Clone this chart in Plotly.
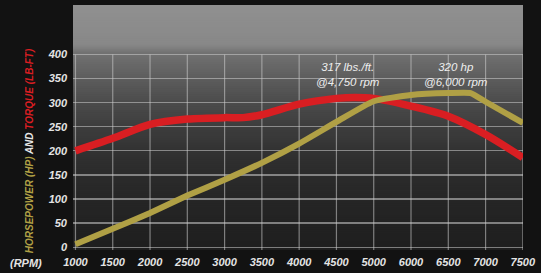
import plotly.graph_objects as go

# ---- data (x positions on the rpm grid) ----
torque_rpm = [1000, 1500, 2000, 2500, 3000, 3250, 3500, 4000, 4500, 4750, 5000, 5500, 6000, 6500, 7000]
torque_val = [200, 226, 255, 266, 269, 269, 275, 297, 309, 311, 309, 293, 272, 234, 186]

hp_rpm = [1000, 1500, 2000, 2500, 3000, 3500, 4000, 4500, 5000, 5500, 6000, 6300, 6500, 7000]
hp_val = [6, 38, 71, 107, 140, 175, 215, 260, 303, 316, 320, 320, 302, 258]

x_tickvals = [1000, 1500, 2000, 2500, 3000, 3500, 4000, 4500, 5000, 5500, 6000, 6500, 7000]
x_ticktext = ["1000", "1500", "2000", "2500", "3000", "3500", "4000", "4500", "5000",
              "6000", "6500", "7000", "7500"]
y_tickvals = [0, 50, 100, 150, 200, 250, 300, 350, 400]

W, H = 541, 273
ML, MR, MT, MB = 73, 14, 5, 21
Y_RANGE = [-6, 503]
X_RANGE = [967, 7002]
GRID = "rgba(205,205,205,0.55)"

fig = go.Figure()

fig.add_trace(go.Scatter(x=torque_rpm, y=torque_val, mode="lines",
                         line=dict(color="#d91e22", width=7.5, shape="spline", smoothing=0.8),
                         hoverinfo="skip", showlegend=False))
fig.add_trace(go.Scatter(x=hp_rpm, y=hp_val, mode="lines",
                         line=dict(color="#b0a045", width=6, shape="spline", smoothing=0.5),
                         hoverinfo="skip", showlegend=False))

# background vertical gradient (pixel-y, gray level)
stops = [(5, 0x90), (45, 0x88), (53, 0x72), (80, 0x5c), (104, 0x4b), (128, 0x3d),
         (160, 0x2f), (200, 0x26), (252, 0x1e)]
ph = H - MT - MB
pw = W - ML - MR
def gray_at(py):
    for (a, ga), (b, gb) in zip(stops, stops[1:]):
        if a <= py <= b:
            t = (py - a) / (b - a)
            return int(round(ga + (gb - ga) * t))
    return stops[-1][1]
shapes = []
step = 2
py = MT
while py < H - MB:
    g = gray_at(py + step / 2)
    ytop = 1 - (py - MT) / ph
    # each band reaches down to the bottom; later (lower) bands cover it
    shapes.append(dict(type="rect", xref="paper", yref="paper", x0=0, x1=1,
                       y0=0, y1=ytop, fillcolor=f"rgb({g},{g},{g})",
                       line=dict(width=0), layer="below"))
    py += step
# vertical grid lines only up to the 400 line
for xv in x_tickvals:
    shapes.append(dict(type="line", xref="x", yref="y", x0=xv, x1=xv,
                       y0=Y_RANGE[0], y1=max(y_tickvals),
                       line=dict(color=GRID, width=1.2), layer="below"))

tickfont = dict(family="Liberation Sans Narrow, Arial Narrow, sans-serif", size=11,
                color="#e4e4e4", weight="bold", style="italic")

fig.update_layout(
    width=W, height=H, autosize=False,
    margin=dict(l=ML, r=MR, t=MT, b=MB, pad=0),
    paper_bgcolor="#121212", plot_bgcolor="#1e1e1e",
    shapes=shapes,
    xaxis=dict(range=X_RANGE, tickvals=x_tickvals, ticktext=x_ticktext,
               showgrid=False, zeroline=False, showline=False, ticks="",
               tickfont=tickfont, ticklabelstandoff=4),
    yaxis=dict(range=Y_RANGE, tickvals=y_tickvals,
               showgrid=True, gridcolor=GRID, gridwidth=1.2,
               zeroline=False, showline=False, ticks="", tickfont=tickfont,
               ticklabelstandoff=5),
)

annfont = dict(family="Liberation Sans Narrow, Arial Narrow, sans-serif", size=11.5,
               color="#eeeeee", style="italic")
fig.add_annotation(x=4650, y=358, xref="x", yref="y", showarrow=False,
                   text="317 lbs./ft.<br>@4,750 rpm", font=annfont, align="center")
fig.add_annotation(x=6110, y=358, xref="x", yref="y", showarrow=False,
                   text="320 hp<br>@6,000 rpm", font=annfont, align="center")

fig.add_annotation(x=-(ML - 26) / pw, y=-(265 - (H - MB)) / ph,
                   xref="paper", yref="paper", yanchor="middle", xanchor="center",
                   showarrow=False, text="(RPM)", font=tickfont)

fig.add_annotation(
    x=-(ML - 29) / pw, y=1 - (152 - MT) / ph, xref="paper", yref="paper",
    showarrow=False, textangle=-90, xanchor="center", yanchor="middle",
    text=("<span style='color:#b0a045'>HORSEPOWER (HP)</span> "
          "<span style='color:#e8e8e8'>AND</span> "
          "<span style='color:#d91e22'>TORQUE (LB-FT)</span>"),
    font=dict(family="Liberation Sans Narrow, Arial Narrow, sans-serif", size=10,
              weight="bold", style="italic"))

fig.write_html("out.html", config={"displayModeBar": False, "staticPlot": True},
               post_script="document.body.style.margin='0';document.body.style.background='#121212';")
